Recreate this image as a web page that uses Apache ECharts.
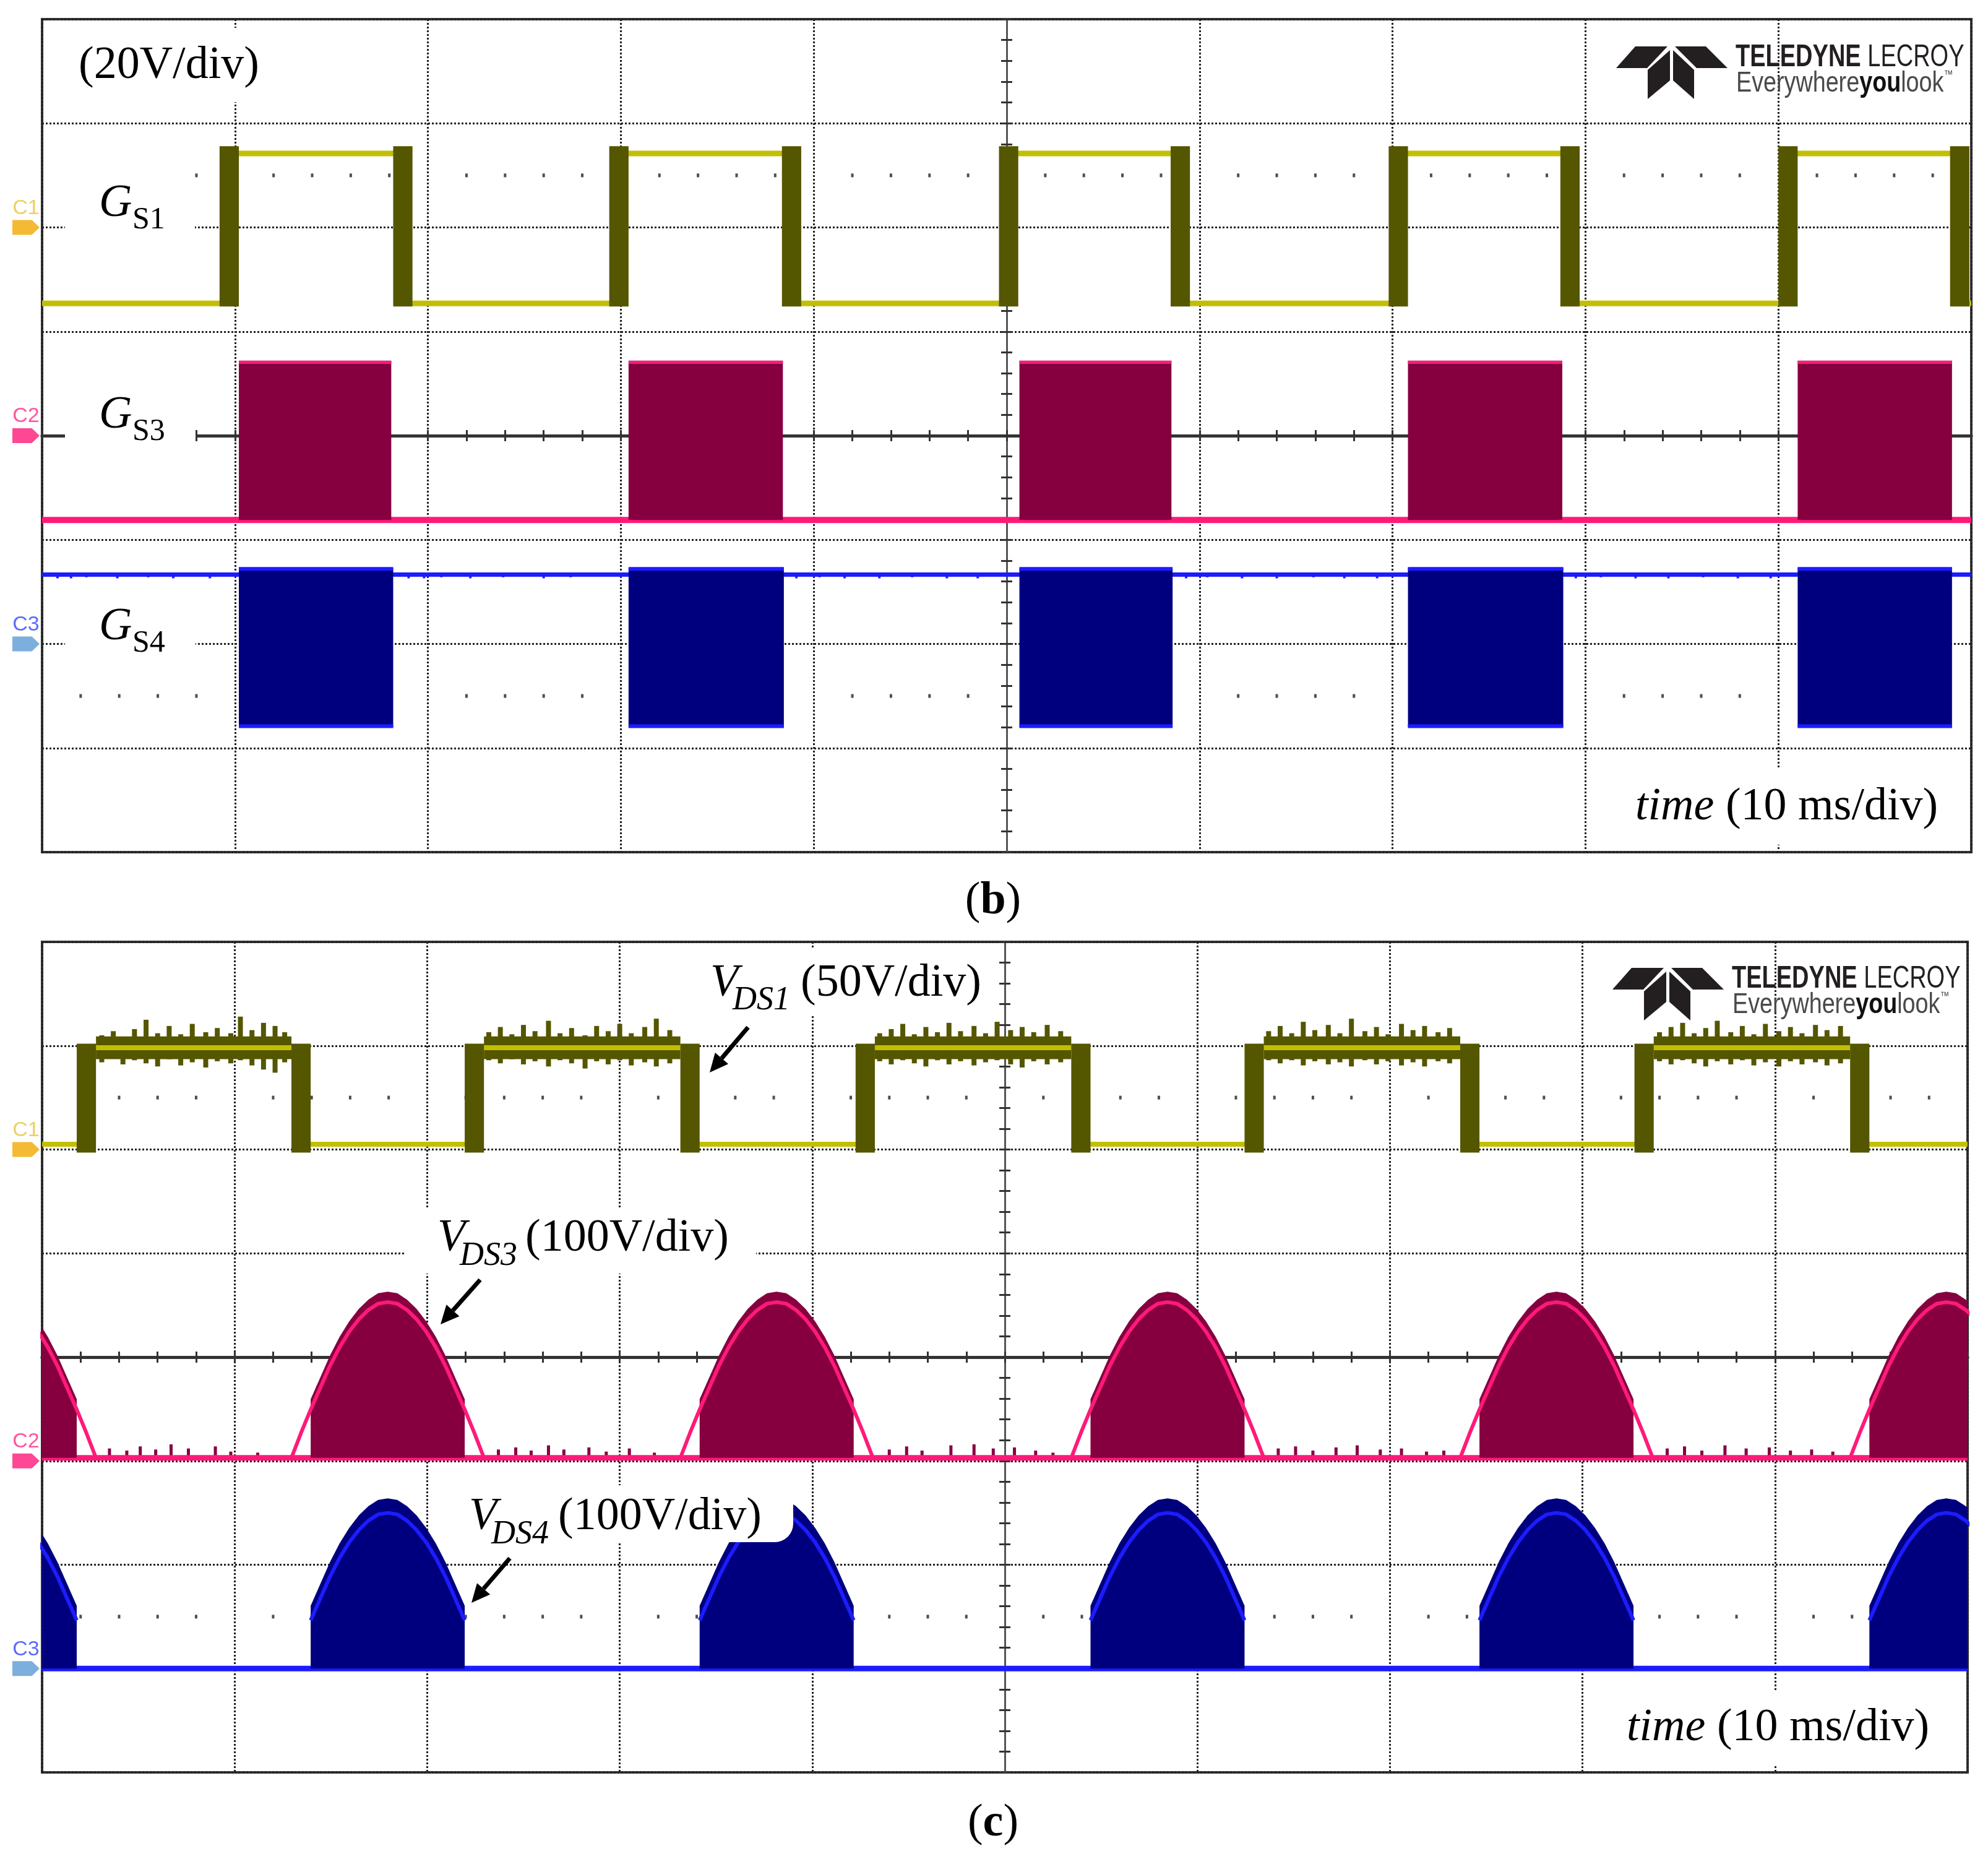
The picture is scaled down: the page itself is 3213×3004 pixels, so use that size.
<!DOCTYPE html>
<html><head><meta charset="utf-8">
<script src="https://cdn.jsdelivr.net/npm/echarts@6/dist/echarts.min.js"></script>
<style>html,body{margin:0;padding:0;background:#fff}#c{width:3213px;height:3004px}</style>
</head><body><div id="c"></div>
<script>
// ================= DATA =================
// time in ms relative to the trigger (screen centre), amplitude in screen divisions from centre
const timeTicks = [-50, -40, -30, -20, -10, 0, 10, 20, 30, 40, 50];
const divTicks = [-4, -3, -2, -1, 0, 1, 2, 3, 4];

// ---- panel (b): gate signals ----
const gs1Levels = [1.27, 2.71];                       // low, high
const gs1RiseStart = [-40.8, -20.6, -0.4, 19.8, 40.0];
const gs1FallStart = [-31.8, -11.65, 8.5, 28.7, 48.9];
const gs1EdgeWidth = 1.0;

const gs3Start = [-39.8, -19.6, 0.66, 20.8, 41.0];
const gs3End = [-31.9, -11.6, 8.54, 28.8, 49.0];
const gs3Levels = [-0.81, 0.72];                      // base, top

const gs4Start = [-39.8, -19.6, 0.66, 20.8, 41.0];
const gs4End = [-31.8, -11.55, 8.6, 28.85, 49.0];
const gs4Levels = [-1.335, -2.80, -1.27];             // idle line, block bottom, block top

// ---- panel (c): drain-source voltages ----
const vds1Levels = [2.05, 2.98];                      // low, high
const vds1RiseStart = [-48.2, -28.05, -7.75, 12.45, 32.7];
const vds1FallStart = [-37.05, -16.85, 3.45, 23.65, 43.9];
const vds1EdgeWidth = 1.0;
const vds1Spikes = [ // [t, top, bottom] noise on the high level
  [-46.9,3.10,2.84],[-46.3,3.14,2.88],[-45.8,3.08,2.82],[-45.2,3.16,2.86],[-44.6,3.25,2.83],[-44.0,3.12,2.80],[-43.4,3.19,2.87],[-42.8,3.11,2.81],[-42.2,3.21,2.84],[-41.5,3.13,2.79],[-40.9,3.17,2.85],[-40.2,3.12,2.83],[-39.7,3.28,2.86],[-39.1,3.15,2.81],[-38.5,3.22,2.77],[-37.9,3.19,2.74],[-37.4,3.13,2.84],
  [-26.8,3.13,2.86],[-26.2,3.18,2.83],[-25.6,3.11,2.87],[-25.0,3.20,2.82],[-24.4,3.14,2.85],[-23.7,3.24,2.80],[-23.1,3.12,2.86],[-22.5,3.17,2.83],[-21.8,3.10,2.78],[-21.2,3.19,2.85],[-20.6,3.14,2.82],[-20.0,3.21,2.86],[-19.4,3.12,2.81],[-18.7,3.18,2.84],[-18.1,3.26,2.80],[-17.4,3.15,2.83],
  [-6.5,3.12,2.85],[-5.9,3.16,2.82],[-5.3,3.21,2.86],[-4.7,3.11,2.83],[-4.1,3.18,2.80],[-3.5,3.13,2.86],[-2.9,3.22,2.82],[-2.3,3.14,2.85],[-1.6,3.19,2.81],[-1.0,3.12,2.84],[-0.4,3.23,2.86],[0.3,3.15,2.82],[0.9,3.18,2.79],[1.5,3.13,2.85],[2.2,3.20,2.82],[2.9,3.14,2.84],
  [13.7,3.14,2.86],[14.3,3.19,2.83],[14.9,3.12,2.86],[15.5,3.23,2.81],[16.1,3.15,2.85],[16.8,3.20,2.82],[17.4,3.12,2.84],[18.0,3.26,2.80],[18.7,3.14,2.86],[19.3,3.18,2.82],[19.9,3.11,2.85],[20.6,3.21,2.81],[21.2,3.15,2.84],[21.8,3.19,2.80],[22.5,3.13,2.85],[23.1,3.17,2.83],
  [34.0,3.13,2.85],[34.6,3.18,2.82],[35.2,3.22,2.86],[35.8,3.12,2.83],[36.4,3.17,2.80],[37.0,3.24,2.85],[37.7,3.13,2.82],[38.3,3.19,2.86],[38.9,3.11,2.81],[39.5,3.21,2.84],[40.2,3.14,2.80],[40.8,3.18,2.85],[41.4,3.12,2.82],[42.1,3.20,2.84],[42.7,3.15,2.81],[43.4,3.19,2.83]
];

// rectified-sine humps of V_DS3 / V_DS4 (start of each hump, ms)
const humpStart = [-57.2, -37.05, -16.85, 3.45, 23.65, 43.9];
const humpOffset = [0, 0.5, 1, 1.5, 2, 2.5, 3, 3.5, 4, 4.5, 5, 5.5, 6, 6.5, 7, 7.5, 8, 8.5, 9, 9.5, 10];
const humpShape = [0, 0.16, 0.31, 0.45, 0.59, 0.71, 0.81, 0.89, 0.95, 0.99, 1, 0.99, 0.95, 0.89, 0.81, 0.71, 0.59, 0.45, 0.31, 0.16, 0];
const humpFillIndex = [2, 18];                        // filled (switching) part: 1 ms .. 9 ms into each hump
const vds3Levels = [-0.97, 0.53];                     // base, envelope peak
const vds4Levels = [-3.0, -1.5];
const vds3Noise = [ // [t, top] noise spikes on V_DS3 idle level
  [-46.5,-0.88],[-45.6,-0.90],[-44.9,-0.86],[-44.1,-0.89],[-43.3,-0.84],[-42.4,-0.88],[-41.0,-0.86],[-40.2,-0.91],[-38.8,-0.92],
  [-26.3,-0.89],[-25.4,-0.87],[-24.6,-0.90],[-23.7,-0.85],[-22.9,-0.89],[-21.6,-0.87],[-20.7,-0.91],[-19.5,-0.88],[-18.2,-0.92],
  [-6.0,-0.89],[-5.1,-0.86],[-4.3,-0.90],[-2.8,-0.85],[-1.6,-0.84],[-0.6,-0.88],[0.5,-0.87],[1.6,-0.90],[2.5,-0.92],
  [14.2,-0.88],[15.1,-0.86],[16.0,-0.90],[17.2,-0.87],[18.3,-0.85],[19.5,-0.89],[20.6,-0.88],[21.9,-0.91],[22.8,-0.90],
  [34.4,-0.88],[35.3,-0.86],[36.2,-0.90],[37.4,-0.85],[38.5,-0.88],[39.7,-0.87],[40.8,-0.90],[41.9,-0.89],[43.0,-0.91]
];
const gs4Noise = [ // [t, bottom] small dips on the G_S4 idle line
  [-49.2,-1.37],[-48.5,-1.37],[-47.7,-1.36],[-46.1,-1.37],[-44.5,-1.36],[-43.2,-1.37],[-41.3,-1.37],
  [-31.0,-1.37],[-30.2,-1.37],[-29.3,-1.36],[-27.8,-1.37],[-26.1,-1.36],[-24.0,-1.37],[-22.6,-1.36],
  [-10.9,-1.37],[-9.7,-1.36],[-8.4,-1.37],[-6.6,-1.37],[-4.9,-1.36],[-3.1,-1.37],[-1.5,-1.37],
  [9.3,-1.37],[10.4,-1.36],[12.2,-1.37],[14.0,-1.37],[15.9,-1.36],[17.5,-1.37],[19.2,-1.37],
  [29.5,-1.37],[30.8,-1.36],[32.6,-1.37],[34.3,-1.37],[36.1,-1.36],[37.9,-1.37],[39.6,-1.37]
];

// channel markers: [label, level] per panel
const markersB = [['C1', 2], ['C2', 0], ['C3', -2]];
const markersC = [['C1', 2], ['C2', -1], ['C3', -3]];

// ================= STYLE =================
const SERIF = '"Liberation Serif","Times New Roman",serif';
const SANS = '"Liberation Sans",Arial,sans-serif';
const OLIVE = '#c2bf00', OLIVE_D = '#555600';
const PINK = '#ff1a78', CRIMSON = '#860040';
const BLUE = '#1c1cff', NAVY = '#00007f';
const markerColors = {C1: ['#f2a900', '#e6c63c'], C2: ['#ff1a78', '#ff2a8a'], C3: ['#5b9bd5', '#3546ff']};

// ================= BUILD =================
const rect = (x0, x1, y0, y1) => [[x0, y0], [x1, y0], [x1, y1], [x0, y1]];

function polySeries(xi, yi, polys, color, z) {
  return {
    type: 'custom', xAxisIndex: xi, yAxisIndex: yi, z: z, clip: true, silent: true,
    data: polys.map((p, i) => [p[0][0], p[0][1], i]),
    renderItem: (params, api) => ({
      type: 'polygon',
      shape: {points: polys[params.dataIndex].map(p => api.coord(p))},
      style: {fill: color}
    })
  };
}
function segSeries(xi, yi, segs, color, width, z) {
  return {
    type: 'custom', xAxisIndex: xi, yAxisIndex: yi, z: z, clip: true, silent: true,
    data: segs.map(s => [s[0], s[1], s[2]]),
    renderItem: (params, api) => {
      const a = api.coord([api.value(0), api.value(1)]);
      const b = api.coord([api.value(0), api.value(2)]);
      return {type: 'line', shape: {x1: a[0], y1: a[1], x2: b[0], y2: b[1]}, style: {stroke: color, lineWidth: width}};
    }
  };
}
function lineSeries(xi, yi, pts, color, width, z) {
  return {type: 'line', xAxisIndex: xi, yAxisIndex: yi, data: pts, symbol: 'none', showSymbol: false,
    lineStyle: {color: color, width: width}, z: z, silent: true, clip: true, connectNulls: false};
}

const series = [];

// minor-tick dot rows at +-2.5 div
const minorTimes = [];
for (let i = 0; i < timeTicks.length - 1; i++)
  for (let k = 1; k < 5; k++) minorTimes.push(timeTicks[i] + k * (timeTicks[i + 1] - timeTicks[i]) / 5);
[0, 1].forEach(g => {
  series.push({type: 'scatter', xAxisIndex: g * 2, yAxisIndex: g * 2, symbol: 'rect', symbolSize: [4, 6], z: 1, silent: true,
    itemStyle: {color: '#222'}, data: minorTimes.flatMap(t => [[t, 2.5], [t, -2.5]])});
});

// ---- panel (b) ----
// G_S1
{
  const [lo, hi] = gs1Levels, w = gs1EdgeWidth;
  const pts = [[-50, lo]];
  gs1RiseStart.forEach((r, i) => {
    const rm = r + w / 2, fm = gs1FallStart[i] + w / 2;
    pts.push([rm, lo], [rm, hi], [fm, hi], [fm, lo]);
  });
  pts.push([50, lo]);
  series.push(lineSeries(0, 0, pts, OLIVE, 9, 3));
  const edges = [];
  gs1RiseStart.forEach(r => edges.push(rect(r, r + w, lo - 0.03, hi + 0.07)));
  gs1FallStart.forEach(f => edges.push(rect(f, f + w, lo - 0.03, hi + 0.07)));
  series.push(polySeries(0, 0, edges, OLIVE_D, 5));
}
// G_S3
{
  const [base, top] = gs3Levels;
  series.push(lineSeries(0, 0, [[-50, base], [50, base]], PINK, 10, 3));
  series.push(polySeries(0, 0, gs3Start.map((s, i) => rect(s, gs3End[i], base, top)), CRIMSON, 4));
  const tops = [];
  gs3Start.forEach((s, i) => tops.push([s, top - 0.015], [gs3End[i], top - 0.015], null));
  series.push(lineSeries(0, 0, tops, PINK, 5, 5));
}
// G_S4
{
  const [idle, bot, top] = gs4Levels;
  series.push(lineSeries(0, 0, [[-50, idle], [50, idle]], BLUE, 7, 3));
  series.push(segSeries(0, 0, gs4Noise.map(n => [n[0], idle, n[1]]), BLUE, 4, 3));
  series.push(polySeries(0, 0, gs4Start.map((s, i) => rect(s, gs4End[i], bot, top)), NAVY, 4));
  const edges = [];
  gs4Start.forEach((s, i) => edges.push([s, top - 0.01], [gs4End[i], top - 0.01], null, [s, bot + 0.01], [gs4End[i], bot + 0.01], null));
  series.push(lineSeries(0, 0, edges, BLUE, 6, 5));
}

// ---- panel (c) ----
// V_DS1
{
  const [lo, hi] = vds1Levels, w = vds1EdgeWidth;
  const pts = [[-50, lo]];
  vds1RiseStart.forEach((r, i) => {
    const rm = r + w / 2, fm = vds1FallStart[i] + w / 2;
    pts.push([rm, lo], [rm, hi], [fm, hi], [fm, lo]);
  });
  pts.push([50, lo]);
  const bands = vds1RiseStart.map((r, i) => rect(r + w, vds1FallStart[i], hi - 0.11, hi + 0.11));
  series.push(polySeries(2, 2, bands, OLIVE_D, 3));
  series.push(segSeries(2, 2, vds1Spikes, OLIVE_D, 8, 3));
  series.push(lineSeries(2, 2, pts, OLIVE, 8, 4));
  const edges = [];
  vds1RiseStart.forEach(r => edges.push(rect(r, r + w, lo - 0.08, hi + 0.04)));
  vds1FallStart.forEach(f => edges.push(rect(f, f + w, lo - 0.08, hi + 0.04)));
  series.push(polySeries(2, 2, edges, OLIVE_D, 5));
}
// V_DS3 and V_DS4
{
  const [b3, p3] = vds3Levels, a3 = p3 - b3;
  const [b4, p4] = vds4Levels, a4 = p4 - b4;
  const [f0, f1] = humpFillIndex;
  const env3 = [], env4 = [], fill3 = [], fill4 = [];
  humpStart.forEach(s => {
    humpOffset.forEach((o, k) => env3.push([s + o, b3 + humpShape[k] * a3]));
    const poly3 = [[s + humpOffset[f0], b3]];
    const poly4 = [[s + humpOffset[f0], b4]];
    for (let k = f0; k <= f1; k++) {
      poly3.push([s + humpOffset[k], b3 + humpShape[k] * a3 + 0.1]);
      poly4.push([s + humpOffset[k], b4 + humpShape[k] * a4 + 0.14]);
      env4.push([s + humpOffset[k], b4 + humpShape[k] * a4]);
    }
    env4.push(null);
    poly3.push([s + humpOffset[f1], b3]);
    poly4.push([s + humpOffset[f1], b4]);
    fill3.push(poly3); fill4.push(poly4);
  });
  series.push(lineSeries(2, 2, [[-50, b3], [50, b3]], PINK, 9, 3));
  series.push(segSeries(2, 2, vds3Noise.map(n => [n[0], b3, n[1]]), CRIMSON, 5, 3));
  series.push(polySeries(2, 2, fill3, CRIMSON, 4));
  series.push(lineSeries(2, 2, env3, PINK, 6, 5));
  series.push(lineSeries(2, 2, [[-50, b4], [50, b4]], BLUE, 9, 3));
  series.push(polySeries(2, 2, fill4, NAVY, 4));
  series.push(lineSeries(2, 2, env4, BLUE, 6, 5));
}

// channel markers (left of the grid)
const arrowPath = 'path://M0,0 L30,0 L42,12 L30,24 L0,24 Z';
[[0, markersB], [1, markersC]].forEach(([g, list]) => {
  list.forEach(([name, lvl]) => {
    series.push({type: 'scatter', xAxisIndex: g * 2, yAxisIndex: g * 2, clip: false, silent: true, z: 6,
      symbol: arrowPath, symbolSize: [44, 24], symbolOffset: [-26, 0],
      itemStyle: {color: markerColors[name][0]},
      label: {show: true, formatter: name, position: 'top', distance: 2, color: markerColors[name][1],
        fontSize: 34, fontFamily: SANS},
      data: [[-50, lvl]]});
  });
});

// ---- axes ----
const grids = [
  {left: 68, top: 31, width: 3118, height: 1346, show: true, borderColor: '#333', borderWidth: 4, backgroundColor: '#fff'},
  {left: 68, top: 1522, width: 3112, height: 1342, show: true, borderColor: '#333', borderWidth: 4, backgroundColor: '#fff'}
];
const dotted = {color: '#222', width: 3, type: [3, 3]};
const xAxis = [], yAxis = [];
[0, 1].forEach(g => {
  ['bottom', 'top'].forEach((pos, j) => xAxis.push({
    gridIndex: g, type: 'value', min: timeTicks[0], max: timeTicks[timeTicks.length - 1], interval: 10, position: pos,
    axisLine: {show: true, onZero: true, onZeroAxisIndex: g * 2, lineStyle: {color: '#333', width: 5}},
    axisTick: {show: true, length: 9, lineStyle: {color: '#333', width: 3}},
    minorTick: {show: true, splitNumber: 5, length: 9, lineStyle: {color: '#333', width: 3}},
    axisLabel: {show: false},
    splitLine: {show: j === 0, lineStyle: dotted}
  }));
  ['left', 'right'].forEach((pos, j) => yAxis.push({
    gridIndex: g, type: 'value', min: divTicks[0], max: divTicks[divTicks.length - 1], interval: 1, position: pos,
    axisLine: {show: true, onZero: true, onZeroAxisIndex: g * 2, lineStyle: {color: '#555', width: 3}},
    axisTick: {show: true, length: 9, lineStyle: {color: '#333', width: 3}},
    minorTick: {show: true, splitNumber: 5, length: 9, lineStyle: {color: '#333', width: 3}},
    axisLabel: {show: false},
    splitLine: {show: j === 0, lineStyle: dotted}
  }));
});

// ---- annotations ----
const G = [];
const box = (x, y, w, h, r) => G.push({type: 'rect', z: 100, shape: {x, y, width: w, height: h, r: r || 0}, style: {fill: '#fff'}});
function T(x, y, text, size, extra) {
  const st = Object.assign({text, fontSize: size, fontFamily: SERIF, fill: '#000',
    align: 'left', verticalAlign: 'middle', textAlign: 'left', textVerticalAlign: 'middle'}, extra || {});
  G.push({type: 'text', z: 101, x, y, style: st});
}
function arrow(x1, y1, x2, y2) {
  const dx = x2 - x1, dy = y2 - y1, L = Math.hypot(dx, dy), ux = dx / L, uy = dy / L, hl = 30, hw = 14;
  const bx = x2 - ux * hl, by = y2 - uy * hl;
  G.push({type: 'line', z: 101, shape: {x1, y1, x2: bx, y2: by}, style: {stroke: '#000', lineWidth: 7}});
  G.push({type: 'polygon', z: 101, shape: {points: [[x2, y2], [bx - uy * hw, by + ux * hw], [bx + uy * hw, by - ux * hw]]}, style: {fill: '#000'}});
}
function logo(dx, dy) {
  const P = pts => pts.map(p => [p[0] + dx, p[1] + dy]);
  [[[2643,75],[2695,75],[2662,110],[2612,110]],
   [[2707,75],[2757,75],[2792,110],[2742,110]],
   [[2663,113],[2699,81],[2699,130],[2663,160]],
   [[2704,81],[2738,113],[2738,160],[2704,130]]].forEach(p =>
    G.push({type: 'polygon', z: 101, shape: {points: P(p)}, style: {fill: '#231f20'}}));
  G.push({type: 'text', z: 101, x: 2805 + dx, y: 93 + dy, scaleX: 0.76, style: {
    text: '{b|TELEDYNE} {r|LECROY}', fontSize: 50, fontFamily: SANS, fill: '#231f20', verticalAlign: 'middle', textVerticalAlign: 'middle',
    rich: {b: {fontSize: 50, fontFamily: SANS, fontWeight: 'bold', fill: '#231f20', color: '#231f20'},
           r: {fontSize: 50, fontFamily: SANS, fill: '#231f20', color: '#231f20'}}}});
  G.push({type: 'text', z: 101, x: 2806 + dx, y: 135 + dy, scaleX: 0.82, style: {
    text: '{r|Everywhere}{b|you}{r|look}{t|™}', fontSize: 46, fontFamily: SANS, fill: '#3a3a3a', verticalAlign: 'middle', textVerticalAlign: 'middle',
    rich: {r: {fontSize: 46, fontFamily: SANS, fill: '#4a4a4a', color: '#4a4a4a'},
           b: {fontSize: 46, fontFamily: SANS, fontWeight: 'bold', fill: '#111', color: '#111'},
           t: {fontSize: 18, fontFamily: SANS, fill: '#4a4a4a', color: '#4a4a4a', verticalAlign: 'top'}}}});
}

// panel (b)
box(112, 45, 322, 120);
T(127, 107, '(20V/div)', 74);
box(105, 280, 210, 112); T(160, 330, 'G', 74, {fontStyle: 'italic'}); T(214, 356, 'S1', 50);
box(105, 622, 211, 115); T(160, 672, 'G', 74, {fontStyle: 'italic'}); T(214, 698, 'S3', 50);
box(105, 962, 211, 110); T(160, 1014, 'G', 74, {fontStyle: 'italic'}); T(214, 1040, 'S4', 50);
box(2625, 1242, 530, 123);
T(2643, 1305, '{i|time} (10 ms/div)', 74, {rich: {i: {fontStyle: 'italic', fontSize: 74, fontFamily: SERIF, fill: '#000', color: '#000'}}});
logo(0, 0);
T(1605, 1457, '({b|b})', 74, {align: 'center', textAlign: 'center',
  rich: {b: {fontWeight: 'bold', fontSize: 74, fontFamily: SERIF, fill: '#000', color: '#000'}}});

// panel (c)
box(1140, 1532, 455, 108);
T(1148, 1590, 'V', 74, {fontStyle: 'italic'}); T(1184, 1617, 'DS1', 54, {fontStyle: 'italic'}); T(1294, 1590, '(50V/div)', 74);
arrow(1209, 1660, 1147, 1733);
box(655, 1952, 567, 106);
T(707, 2002, 'V', 74, {fontStyle: 'italic'}); T(743, 2030, 'DS3', 54, {fontStyle: 'italic'}); T(849, 2002, '(100V/div)', 74);
arrow(776, 2068, 712, 2140);
box(752, 2400, 530, 92, [0, 0, 30, 0]);
T(758, 2452, 'V', 74, {fontStyle: 'italic'}); T(794, 2480, 'DS4', 54, {fontStyle: 'italic'}); T(902, 2452, '(100V/div)', 74);
arrow(824, 2518, 762, 2590);
box(2612, 2732, 530, 120);
T(2629, 2793, '{i|time} (10 ms/div)', 74, {rich: {i: {fontStyle: 'italic', fontSize: 74, fontFamily: SERIF, fill: '#000', color: '#000'}}});
logo(-6, 1489);
T(1605, 2947, '({b|c})', 74, {align: 'center', textAlign: 'center',
  rich: {b: {fontWeight: 'bold', fontSize: 74, fontFamily: SERIF, fill: '#000', color: '#000'}}});

const chart = echarts.init(document.getElementById('c'), null, {renderer: 'canvas', width: 3213, height: 3004});
chart.setOption({
  animation: false,
  backgroundColor: '#fff',
  grid: grids,
  xAxis: xAxis,
  yAxis: yAxis,
  series: series,
  graphic: {elements: G}
});
</script>
</body></html>
